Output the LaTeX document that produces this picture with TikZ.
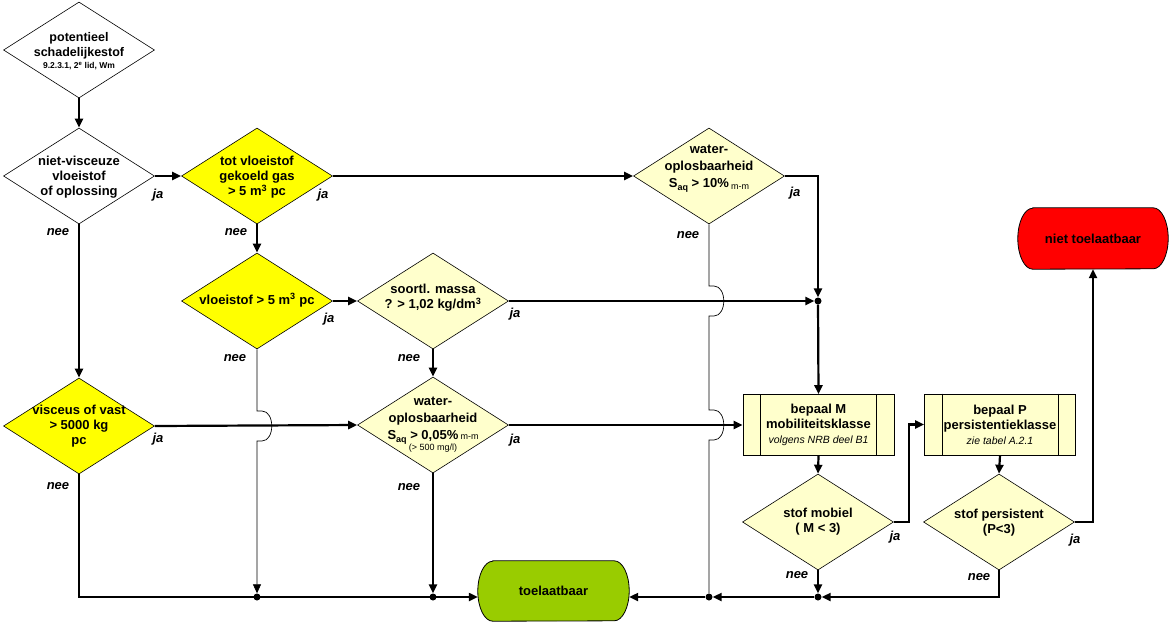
\documentclass[tikz,border=0pt]{standalone}
\usepackage{fontspec}
\setmainfont{Liberation Sans}
\usetikzlibrary{shapes.geometric,arrows.meta,backgrounds}
\definecolor{yel}{HTML}{FFFF00}
\definecolor{lyel}{HTML}{FFFFCC}
\definecolor{grn}{HTML}{99CC00}
\definecolor{rd}{HTML}{FF0000}
\newcommand{\smalltxt}[1]{{\fontsize{9}{9}\selectfont\mdseries #1}}
\newcommand{\saq}{S\raisebox{-3pt}{\fontsize{9}{9}\selectfont aq}}
\begin{document}
\begin{tikzpicture}[x=1pt,y=-1pt,
  dia/.style={diamond,draw=black,line width=0.6pt,minimum width=151pt,minimum height=96pt,inner sep=0pt},
  txt/.style={align=center,inner sep=0pt,font=\fontsize{13}{15}\selectfont\bfseries},
  wtxt/.style={align=center,inner sep=0pt,font=\fontsize{13}{17}\selectfont\bfseries},
  lab/.style={inner sep=0pt,font=\fontsize{13}{15}\selectfont\bfseries\itshape},
  proc/.style={rectangle,draw=black,line width=0.6pt,fill=lyel,minimum width=151pt,minimum height=61pt,inner sep=0pt,align=center,font=\fontsize{13}{15}\selectfont\bfseries},
  term/.style={rectangle,minimum width=151pt,minimum height=60pt,inner sep=0pt,font=\fontsize{13}{15}\selectfont\bfseries},
  flow/.style={line width=2.2pt,-{Triangle[length=9pt,width=8pt]}},
  plainflow/.style={line width=2.2pt},
  thinflow/.style={line width=0.7pt},
  jdot/.style={circle,fill=black,inner sep=0pt,minimum size=7pt}]
\useasboundingbox (0,0) rectangle (1170,622);

% diamonds
\node[dia,fill=white] (D0) at (79,50) {};
\node[dia,fill=white] (D1) at (79,176) {};
\node[dia,fill=yel] (D2) at (257,176) {};
\node[dia,fill=lyel] (D3) at (709,176) {};
\node[dia,fill=yel] (D4) at (257,301) {};
\node[dia,fill=lyel] (D5) at (433,301) {};
\node[dia,fill=yel] (D6) at (79,426) {};
\node[dia,fill=lyel] (D7) at (433,425) {};
\node[dia,fill=lyel] (D8) at (818,522) {};
\node[dia,fill=lyel] (D9) at (999,522) {};

% process boxes
\node[proc] (M) at (818.5,425) {bepaal M\\mobiliteitsklasse\\{\fontsize{10.5}{12}\selectfont\mdseries\itshape volgens NRB deel B1}};
\node[proc] (P) at (1000,424.5) {bepaal P\\persistentieklasse\\{\fontsize{10.5}{12}\selectfont\mdseries\itshape zie tabel A.2.1}};
\draw[line width=0.6pt] ([xshift=18pt]M.north west) -- ([xshift=18pt]M.south west);
\draw[line width=0.6pt] ([xshift=-18pt]M.north east) -- ([xshift=-18pt]M.south east);
\draw[line width=0.6pt] ([xshift=18pt]P.north west) -- ([xshift=18pt]P.south west);
\draw[line width=0.6pt] ([xshift=-18pt]P.north east) -- ([xshift=-18pt]P.south east);

% terminals
\node[term] (Tl) at (553.5,591) {toelaatbaar};
\node[term,minimum width=150pt,minimum height=61pt] (NT) at (1093,238.5) {niet toelaatbaar};
\begin{scope}[on background layer]
\filldraw[fill=grn,line width=0.8pt] ([xshift=15pt]Tl.north west) -- ([xshift=-15pt]Tl.north east)
  arc[start angle=90,end angle=-90,x radius=15pt,y radius=30pt] -- ([xshift=15pt]Tl.south west)
  arc[start angle=-90,end angle=-270,x radius=15pt,y radius=30pt] -- cycle;
\filldraw[fill=rd,line width=0.8pt] ([xshift=15pt]NT.north west) -- ([xshift=-15pt]NT.north east)
  arc[start angle=90,end angle=-90,x radius=15pt,y radius=30.5pt] -- ([xshift=15pt]NT.south west)
  arc[start angle=-90,end angle=-270,x radius=15pt,y radius=30.5pt] -- cycle;
\end{scope}

% texts in diamonds
\node[txt] (D0t) at (79,51) {{\fontsize{12.5}{15}\selectfont potentieel}\\{\fontsize{12.5}{15}\selectfont schadelijkestof}\\[-3pt]{\fontsize{8.5}{10}\selectfont 9.2.3.1, 2\textsuperscript{e} lid, Wm}};
\node[txt] (D1t) at (79,177) {niet-visceuze\\vloeistof\\of oplossing};
\node[txt] (D2t) at (257,177) {tot vloeistof\\gekoeld gas\\> 5 m\textsuperscript{3} pc};
\node[wtxt] (D3t) at (709,169) {water-\\oplosbaarheid\\\saq{} > 10\%\,\raisebox{-1.5pt}{\smalltxt{m-m}}};
\node[txt] (D4t) at (257,300) {vloeistof > 5 m\textsuperscript{3} pc};
\node[txt] (D5t) at (433,298) {soortl. massa\\? > 1,02 kg/dm\textsuperscript{3}};
\node[txt] (D6t) at (79,426) {visceus of vast\\> 5000 kg\\pc};
\node[wtxt] (D7t) at (433,425) {water-\\oplosbaarheid\\\saq{} > 0,05\%\,\smalltxt{m-m}\\[-6pt]\smalltxt{(> 500 mg/l)}};
\node[txt] (D8t) at (818,522) {stof mobiel\\( M < 3)};
\node[txt] (D9t) at (999,523) {stof persistent\\(P<3)};

% junctions
\node[jdot] (JA) at (818,301) {};
\node[jdot] (JB1) at (257,597) {};
\node[jdot] (JB2) at (433,597) {};
\node[jdot] (JC) at (709,597) {};
\node[jdot] (JD) at (818,597) {};

% connectors
\draw[flow] (D0.south) -- (D1.north);
\draw[flow] (D1.east) -- (D2.west);
\draw[flow] (D1.south) -- (D6.north);
\draw[flow] (D2.east) -- (D3.west);
\draw[flow] (D2.south) -- (D4.north);
\draw[flow] (D3.east) -| (JA);
\draw[flow] (D4.east) -- (D5.west);
\draw[flow] (D5.east) -- (JA);
\draw[flow] (D5.south) -- (D7.north);
\draw[flow] (JA) -- (M.north);
\draw[flow] (D6.east) -- (D7.west);
\draw[flow] (D7.east) -- (D7.east -| M.west);
\draw[flow] (D7.south) -- (JB2);
\draw[flow] (D6.south) |- (Tl.west |- JB1);
\draw[flow] (M.south) -- (D8.north);
\draw[flow] (P.south) -- (D9.north);
\draw[flow] (D8.east) -- ++(15,0) |- (P.west);
\draw[flow] (D9.east) -| (NT.south);
\draw[flow] (D8.south) -- (JD);
\draw[flow] (D9.south) |- (JD);
\draw[flow] (JD) -- (JC);
\draw[flow] (JC) -- (JC -| Tl.east);
% thin "nee" lines with jumps
\draw[thinflow,-{Triangle[length=9pt,width=8pt]}] (D4.south) -- (257,411) -- (262,411)
  .. controls (275,411) and (275,441) .. (262,441) -- (257,441) -- (JB1);
\draw[thinflow] (D3.south) -- (709,286) -- (714,286)
  .. controls (727,286) and (727,316) .. (714,316) -- (709,316) -- (709,410) -- (714,410)
  .. controls (727,410) and (727,440) .. (714,440) -- (709,440) -- (JC);

% ja / nee labels
\node[lab] (l1) at (158,195) {ja};
\node[lab] (l2) at (58,232) {nee};
\node[lab] (l3) at (323,195) {ja};
\node[lab] (l4) at (236,232) {nee};
\node[lab] (l5) at (795,193) {ja};
\node[lab] (l6) at (688,235) {nee};
\node[lab] (l7) at (329,319) {ja};
\node[lab] (l8) at (235,358) {nee};
\node[lab] (l9) at (515,314) {ja};
\node[lab] (l10) at (409,358) {nee};
\node[lab] (l11) at (158,439) {ja};
\node[lab] (l12) at (58,486) {nee};
\node[lab] (l13) at (515,440) {ja};
\node[lab] (l14) at (409,487) {nee};
\node[lab] (l15) at (895,537) {ja};
\node[lab] (l16) at (797,575) {nee};
\node[lab] (l17) at (1075,540) {ja};
\node[lab] (l18) at (979,577) {nee};
\end{tikzpicture}
\end{document}
